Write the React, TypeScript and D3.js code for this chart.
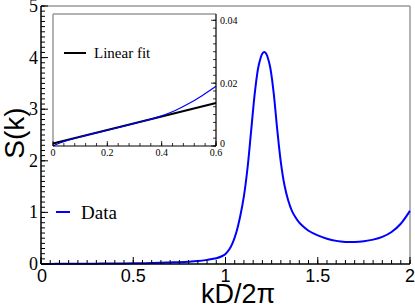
import React from "react";
import * as d3 from "d3";

const kValues = [0, 0.005, 0.02, 0.05, 0.1, 0.15, 0.2, 0.25, 0.3, 0.35, 0.4, 0.45, 0.5, 0.55, 0.6, 0.65, 0.7, 0.75, 0.8, 0.85, 0.9, 0.95, 0.98, 1.0, 1.02, 1.04, 1.06, 1.08, 1.1, 1.12, 1.14, 1.16, 1.18, 1.2, 1.21, 1.22, 1.24, 1.26, 1.28, 1.3, 1.32, 1.34, 1.36, 1.38, 1.4, 1.42, 1.45, 1.5, 1.55, 1.6, 1.65, 1.7, 1.75, 1.8, 1.85, 1.9, 1.95, 2.0];
const sValues = [0.0001, 0.0002, 0.0008, 0.0017, 0.0029, 0.004, 0.005, 0.0061, 0.0072, 0.0083, 0.0096, 0.0113, 0.0135, 0.0161, 0.019, 0.024, 0.03, 0.036, 0.045, 0.058, 0.08, 0.11, 0.15, 0.195, 0.28, 0.42, 0.63, 0.93, 1.32, 1.88, 2.62, 3.35, 3.85, 4.08, 4.11, 4.08, 3.85, 3.35, 2.62, 1.97, 1.52, 1.23, 1.03, 0.9, 0.8, 0.73, 0.645, 0.555, 0.49, 0.448, 0.428, 0.427, 0.442, 0.472, 0.525, 0.62, 0.78, 1.03];
const fitIntercept = 0.0008;
const fitSlope = 0.0215;

const xTicks = [0, 0.5, 1, 1.5, 2];
const xTickLabels = ["0", "0.5", "1", "1.5", "2"];
const yTicks = [0, 1, 2, 3, 4, 5];
const insetXTicks = [0, 0.2, 0.4, 0.6];
const insetXTickLabels = ["0", "0.2", "0.4", "0.6"];
const insetYTicks = [0, 0.02, 0.04];
const insetYTickLabels = ["0", "0.02", "0.04"];

const seriesLabel = "Data";
const fitLabel = "Linear fit";
const xLabel = "kD/2π";
const yLabel = "S(k)";

const SERIF = "'Liberation Serif', 'DejaVu Serif', serif";
const SANS = "'Liberation Sans', Arial, sans-serif";
const BLUE = "#0000ff";
const GRAY = "#999999";

function range(a: number, b: number, step: number) {
  const out: number[] = [];
  const n = Math.round((b - a) / step);
  for (let i = 0; i <= n; i++) out.push(+(a + i * step).toFixed(6));
  return out;
}

export default function App() {
  const W = 415, H = 305;
  const x = d3.scaleLinear().domain([0, 2]).range([41, 410]);
  const y = d3.scaleLinear().domain([0, 5]).range([264, 6]);
  const ix = d3.scaleLinear().domain([0, 0.6]).range([53, 216]);
  const iy = d3.scaleLinear().domain([0, 0.042]).range([146, 14]);

  const data = kValues.map((k, i) => ({ k, s: sValues[i] }));
  const mainLine = d3.line<{ k: number; s: number }>()
    .x(d => x(d.k)).y(d => y(d.s)).curve(d3.curveCatmullRom.alpha(0.5));
  const insetData = data.filter(d => d.k <= 0.6);
  const insetLine = d3.line<{ k: number; s: number }>()
    .x(d => ix(d.k)).y(d => iy(d.s)).curve(d3.curveCatmullRom.alpha(0.5));
  const fitPts = [0, 0.6].map(k => ({ k, s: fitIntercept + fitSlope * k }));

  const xMinor = range(0, 2, 0.05);
  const yMinor = range(0, 5, 0.1);
  const ixMinor = range(0, 0.6, 0.04);
  const iyMinor = range(0, 0.04, 0.0025);

  return (
    <svg width={W} height={H} style={{ position: "absolute", left: 0, top: 0 }}>
      <rect x={0} y={0} width={W} height={H} fill="#fff" />
      {/* main frame */}
      <line x1={x(0)} x2={x(2)} y1={y(5)} y2={y(5)} stroke={GRAY} strokeWidth={1.5} />
      <line x1={x(2)} x2={x(2)} y1={y(5)} y2={y(0)} stroke={GRAY} strokeWidth={1.5} />
      {/* main curve */}
      <path d={mainLine(data) || ""} fill="none" stroke={BLUE} strokeWidth={2} />
      {/* main axes */}
      <line x1={x(0)} x2={x(2)} y1={y(0)} y2={y(0)} stroke="#000" strokeWidth={1.5} />
      <line x1={x(0)} x2={x(0)} y1={y(0)} y2={y(5)} stroke="#000" strokeWidth={1.5} />
      {xMinor.map((t, i) => (
        <line key={"xm" + i} x1={x(t)} x2={x(t)} y1={y(0)} y2={y(0) - 4} stroke="#000" strokeWidth={1} />
      ))}
      {xTicks.map((t, i) => (
        <g key={"xt" + i}>
          <line x1={x(t)} x2={x(t)} y1={y(0)} y2={y(0) - 7} stroke="#000" strokeWidth={1} />
          <text x={x(t) + (i === 0 ? 1 : 0)} y={282} textAnchor="middle" fontFamily={SANS} fontSize={18}>{xTickLabels[i]}</text>
        </g>
      ))}
      {yMinor.map((t, i) => (
        <line key={"ym" + i} x1={x(0)} x2={x(0) + 4} y1={y(t)} y2={y(t)} stroke="#000" strokeWidth={1} />
      ))}
      {yTicks.map((t, i) => (
        <g key={"yt" + i}>
          <line x1={x(0)} x2={x(0) + 7} y1={y(t)} y2={y(t)} stroke="#000" strokeWidth={1} />
          <text x={38} y={y(t) + 6} textAnchor="end" fontFamily={SERIF} fontSize={18}>{t}</text>
        </g>
      ))}
      {/* legend Data */}
      <line x1={56} x2={70} y1={212} y2={212} stroke={BLUE} strokeWidth={2} />
      <text x={81} y={218.5} fontFamily={SERIF} fontSize={19}>{seriesLabel}</text>
      {/* axis labels */}
      <text x={238} y={303} textAnchor="middle" fontFamily={SANS} fontSize={27}>{xLabel}</text>
      <text transform="translate(24,133) rotate(-90)" textAnchor="middle" fontFamily={SANS} fontSize={28}>{yLabel}</text>

      {/* inset */}
      <rect x={ix(0)} y={iy(0.042)} width={ix(0.6) - ix(0)} height={iy(0) - iy(0.042)} fill="#fff" />
      <line x1={ix(0)} x2={ix(0.6)} y1={iy(0.042)} y2={iy(0.042)} stroke={GRAY} strokeWidth={1.5} />
      <line x1={ix(0)} x2={ix(0)} y1={iy(0.042)} y2={iy(0)} stroke={GRAY} strokeWidth={1.5} />
      <path d={d3.line<{ k: number; s: number }>().x(d => ix(d.k)).y(d => iy(d.s))(fitPts) || ""} fill="none" stroke="#000" strokeWidth={2} />
      <path d={insetLine(insetData) || ""} fill="none" stroke={BLUE} strokeWidth={1.2} />
      <line x1={ix(0)} x2={ix(0.6)} y1={iy(0)} y2={iy(0)} stroke="#000" strokeWidth={1.2} />
      <line x1={ix(0.6)} x2={ix(0.6)} y1={iy(0)} y2={iy(0.042)} stroke="#000" strokeWidth={1.2} />
      {ixMinor.map((t, i) => (
        <line key={"ixm" + i} x1={ix(t)} x2={ix(t)} y1={iy(0)} y2={iy(0) - 3} stroke="#000" strokeWidth={0.8} />
      ))}
      {insetXTicks.map((t, i) => (
        <g key={"ixt" + i}>
          <line x1={ix(t)} x2={ix(t)} y1={iy(0)} y2={iy(0) - 5} stroke="#000" strokeWidth={0.8} />
          <text x={ix(t)} y={156} textAnchor="middle" fontFamily={SERIF} fontSize={10}>{insetXTickLabels[i]}</text>
        </g>
      ))}
      {iyMinor.map((t, i) => (
        <line key={"iym" + i} x1={ix(0.6)} x2={ix(0.6) - 3} y1={iy(t)} y2={iy(t)} stroke="#000" strokeWidth={0.8} />
      ))}
      {insetYTicks.map((t, i) => (
        <g key={"iyt" + i}>
          <line x1={ix(0.6)} x2={ix(0.6) - 5} y1={iy(t)} y2={iy(t)} stroke="#000" strokeWidth={0.8} />
          <text x={ix(0.6) + 4} y={iy(t) + 3.5 - (i === 0 ? 3 : 0)} fontFamily={SERIF} fontSize={10}>{insetYTickLabels[i]}</text>
        </g>
      ))}
      <line x1={64} x2={86} y1={53} y2={53} stroke="#000" strokeWidth={2} />
      <text x={94} y={58} fontFamily={SERIF} fontSize={15}>{fitLabel}</text>
    </svg>
  );
}
